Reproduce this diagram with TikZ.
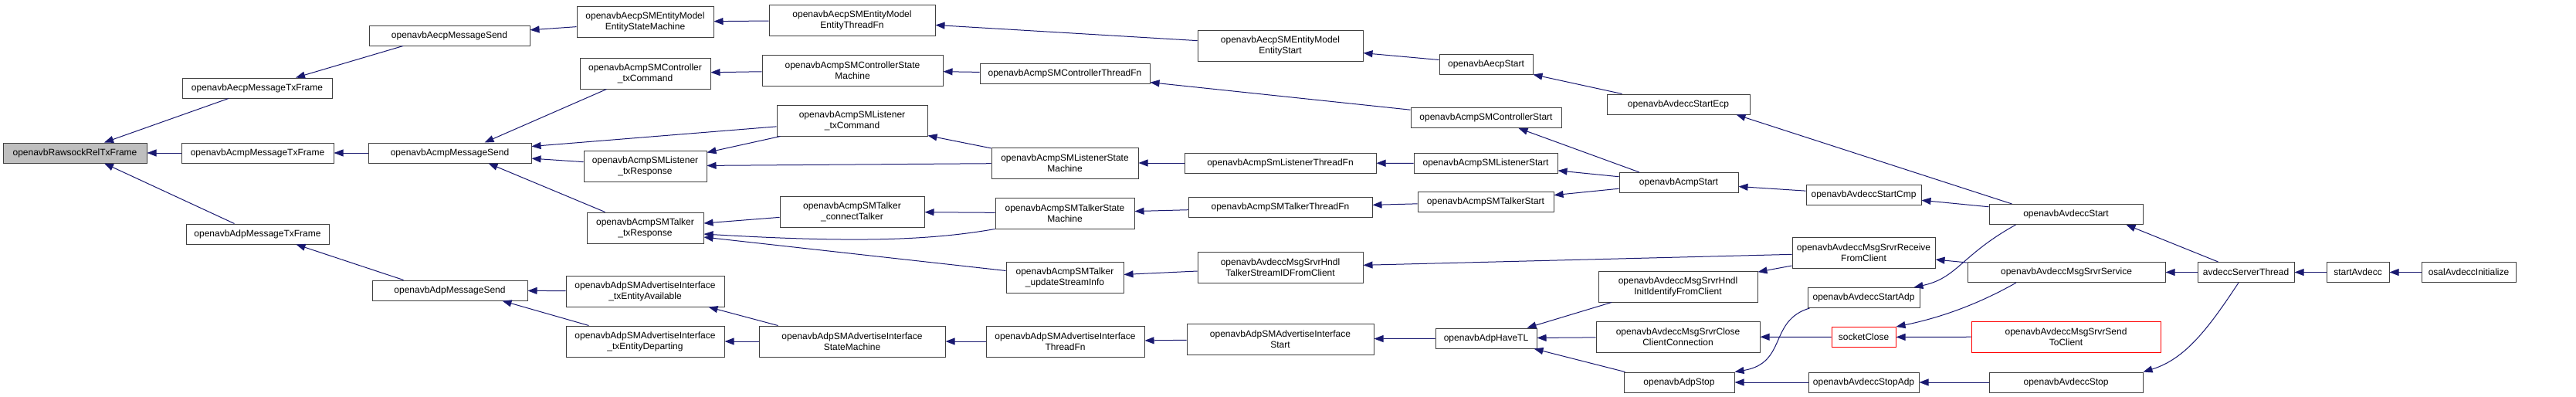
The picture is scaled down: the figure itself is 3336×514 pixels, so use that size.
\documentclass[tikz,border=0pt]{standalone}
\usepackage{fontspec}
\setmainfont{Liberation Sans}
\usepackage{tikz}
\usetikzlibrary{arrows.meta, positioning}
\definecolor{callColor}{HTML}{191970}
\definecolor{rootFill}{HTML}{BFBFBF}

\begin{document}
\begin{tikzpicture}[x=1pt, y=-1pt, font=\fontsize{12}{14}\selectfont, >={Triangle[length=12pt, width=9pt]},
        fn/.style={rectangle, draw=black!75, line width=1pt, fill=white, inner sep=0pt, minimum height=26pt, align=center},
        fntwo/.style={fn, minimum height=40pt},
        fnred/.style={draw=red},
        call/.style={->, callColor, line width=1pt}]
        \useasboundingbox (0,0) rectangle (3336,514);

        % Column 0-2: tx frame and message send
        \node[fn, fill=rootFill, minimum width=186pt] (raw) at (97,198) {openavbRawsockRelTxFrame};
        \node[fn, minimum width=194pt] (aecpTx) at (333,114) {openavbAecpMessageTxFrame};
        \node[fn, minimum width=197pt] (acmpTx) at (333.5,198) {openavbAcmpMessageTxFrame};
        \node[fn, minimum width=185pt] (adpTx) at (333.5,303) {openavbAdpMessageTxFrame};
        \node[fn, minimum width=208pt] (aecpSend) at (582,46) {openavbAecpMessageSend};
        \node[fn, minimum width=211pt] (acmpSend) at (582.5,198) {openavbAcmpMessageSend};
        \node[fn, minimum width=201pt] (adpSend) at (582.5,376) {openavbAdpMessageSend};

        % Column 3
        \node[fntwo, minimum width=177pt] (aecpSM) at (835.5,28.5) {openavbAecpSMEntityModel\\EntityStateMachine};
        \node[fntwo, minimum width=169pt] (ctrlTxCmd) at (835.5,95) {openavbAcmpSMController\\\_txCommand};
        \node[fntwo, minimum width=159pt] (lisTxResp) at (835.5,215) {openavbAcmpSMListener\\\_txResponse};
        \node[fntwo, minimum width=151pt] (talkTxResp) at (835.5,295) {openavbAcmpSMTalker\\\_txResponse};
        \node[fntwo, minimum width=205pt] (txAvail) at (835.5,377) {openavbAdpSMAdvertiseInterface\\\_txEntityAvailable};
        \node[fntwo, minimum width=205pt] (txDepart) at (835.5,442) {openavbAdpSMAdvertiseInterface\\\_txEntityDeparting};

        % Column 4
        \node[fntwo, minimum width=215pt] (aecpThr) at (1103.5,26) {openavbAecpSMEntityModel\\EntityThreadFn};
        \node[fntwo, minimum width=234pt] (ctrlSM) at (1104,91) {openavbAcmpSMControllerState\\Machine};
        \node[fntwo, minimum width=195pt] (lisTxCmd) at (1103.5,156) {openavbAcmpSMListener\\\_txCommand};
        \node[fntwo, minimum width=187pt] (talkConn) at (1103.5,274) {openavbAcmpSMTalker\\\_connectTalker};
        \node[fntwo, minimum width=241pt] (advSM) at (1103.5,442) {openavbAdpSMAdvertiseInterface\\StateMachine};

        % Column 5
        \node[fn, minimum width=220pt] (ctrlThr) at (1379,95) {openavbAcmpSMControllerThreadFn};
        \node[fntwo, minimum width=190pt] (lisSM) at (1379,211) {openavbAcmpSMListenerState\\Machine};
        \node[fntwo, minimum width=180pt] (talkSM) at (1379,276) {openavbAcmpSMTalkerState\\Machine};
        \node[fntwo, minimum width=152pt] (talkUpd) at (1379,359) {openavbAcmpSMTalker\\\_updateStreamInfo};
        \node[fntwo, minimum width=205pt] (advThr) at (1379.5,442) {openavbAdpSMAdvertiseInterface\\ThreadFn};

        % Column 6
        \node[fntwo, minimum width=214pt] (aecpSMStart) at (1658,59) {openavbAecpSMEntityModel\\EntityStart};
        \node[fn, minimum width=248pt] (lisThr) at (1658,211) {openavbAcmpSmListenerThreadFn};
        \node[fn, minimum width=238pt] (talkThr) at (1658,268.5) {openavbAcmpSMTalkerThreadFn};
        \node[fntwo, minimum width=214pt] (hndlTalk) at (1658,346) {openavbAvdeccMsgSrvrHndl\\TalkerStreamIDFromClient};
        \node[fntwo, minimum width=242pt] (advStart) at (1658,439) {openavbAdpSMAdvertiseInterface\\Start};

        % Column 7
        \node[fn, minimum width=121pt] (aecpStart) at (1924.5,83) {openavbAecpStart};
        \node[fn, minimum width=195pt] (ctrlStart) at (1924.5,152.5) {openavbAcmpSMControllerStart};
        \node[fn, minimum width=186pt] (lisStart) at (1924,211.5) {openavbAcmpSMListenerStart};
        \node[fn, minimum width=176pt] (talkStart) at (1924,261.5) {openavbAcmpSMTalkerStart};
        \node[fn, minimum width=131pt] (haveTL) at (1924.5,438) {openavbAdpHaveTL};

        % Column 8
        \node[fn, minimum width=185pt] (startEcp) at (2173.5,135) {openavbAvdeccStartEcp};
        \node[fn, minimum width=154pt] (acmpStart) at (2174,236.5) {openavbAcmpStart};
        \node[fntwo, minimum width=206pt] (hndlInit) at (2173,371) {openavbAvdeccMsgSrvrHndl\\InitIdentifyFromClient};
        \node[fntwo, minimum width=212pt] (closeConn) at (2173,436) {openavbAvdeccMsgSrvrClose\\ClientConnection};
        \node[fn, minimum width=143pt] (adpStop) at (2174.5,495) {openavbAdpStop};

        % Column 9
        \node[fn, minimum width=149pt] (startCmp) at (2413.5,252) {openavbAvdeccStartCmp};
        \node[fntwo, minimum width=185pt] (recvFrom) at (2413.5,327) {openavbAvdeccMsgSrvrReceive\\FromClient};
        \node[fn, minimum width=145pt] (startAdp) at (2413.5,385.5) {openavbAvdeccStartAdp};
        \node[fn, fnred, minimum width=83pt] (sockClose) at (2413.5,436.5) {socketClose};
        \node[fn, minimum width=143pt] (stopAdp) at (2413.5,495) {openavbAvdeccStopAdp};

        % Column 10
        \node[fn, minimum width=199pt] (avdStart) at (2675.5,277.5) {openavbAvdeccStart};
        \node[fn, minimum width=256pt] (srvService) at (2676,352.5) {openavbAvdeccMsgSrvrService};
        \node[fntwo, fnred, minimum width=245pt] (sendTo) at (2675.5,436) {openavbAvdeccMsgSrvrSend\\ToClient};
        \node[fn, minimum width=199pt] (avdStop) at (2675.5,495) {openavbAvdeccStop};

        % Column 11-13
        \node[fn, minimum width=125pt] (srvThread) at (2908.5,352.5) {avdeccServerThread};
        \node[fn, minimum width=81pt] (startAvd) at (3053.5,352.5) {startAvdecc};
        \node[fn, minimum width=122pt] (osalInit) at (3197,352.5) {osalAvdeccInitialize};

        % Calls into the tx frames
        \draw[call] ([xshift=-37pt]aecpTx.south) -- ([xshift=38pt]raw.north);
        \draw[call] (acmpTx) -- (raw);
        \draw[call] ([xshift=-30pt]adpTx.north) -- ([xshift=38pt]raw.south);
        \draw[call] ([xshift=-60pt]aecpSend.south) -- ([xshift=50pt]aecpTx.north);
        \draw[call] (acmpSend) -- (acmpTx);
        \draw[call] ([xshift=-60pt]adpSend.north) -- ([xshift=50pt]adpTx.south);

        % Aecp chain
        \draw[call] (aecpSM) -- (aecpSend);
        \draw[call] (aecpThr) -- (aecpSM);
        \draw[call] (aecpSMStart) -- (aecpThr);
        \draw[call] (aecpStart) -- (aecpSMStart);
        \draw[call] ([xshift=-73pt]startEcp.north) -- (aecpStart.south east);
        \draw[call] ([xshift=-70pt]avdStart.north) -- ([xshift=75pt]startEcp.south);

        % Acmp chain
        \draw[call] ([xshift=-50pt]ctrlTxCmd.south) -- ([xshift=45pt]acmpSend.north);
        \draw[call] (lisTxCmd) -- (acmpSend);
        \draw[call] (lisTxResp) -- (acmpSend);
        \draw[call] ([xshift=-52pt]talkTxResp.north) -- ([xshift=50pt]acmpSend.south);
        \draw[call] (ctrlSM) -- (ctrlTxCmd);
        \draw[call] (ctrlThr) -- (ctrlSM);
        \draw[call] (ctrlStart) -- (ctrlThr);
        \draw[call] ([xshift=-51pt]acmpStart.north) -- ([xshift=42pt]ctrlStart.south);
        \draw[call] (lisTxCmd) -- (lisTxResp);
        \draw[call] (lisSM) -- (lisTxResp);
        \draw[call] (lisSM) -- (lisTxCmd);
        \draw[call] (lisThr) -- (lisSM);
        \draw[call] (lisStart) -- (lisThr);
        \draw[call] (acmpStart) -- (lisStart);
        \draw[call] (talkConn) -- (talkTxResp);
        \draw[call] (talkSM.south west) .. controls (1200,312) and (1100,314) .. ([yshift=-8pt]talkTxResp.east);
        \draw[call] (talkUpd) -- ([yshift=-12pt]talkTxResp.east);
        \draw[call] (talkSM) -- (talkConn);
        \draw[call] (talkThr) -- (talkSM);
        \draw[call] (talkStart) -- (talkThr);
        \draw[call] (acmpStart) -- (talkStart);
        \draw[call] (startCmp) -- (acmpStart);
        \draw[call] (avdStart) -- (startCmp);

        % Message server
        \draw[call] (hndlTalk) -- (talkUpd);
        \draw[call] (recvFrom) -- (hndlTalk);
        \draw[call] (recvFrom) -- (hndlInit);
        \draw[call] (srvService) -- (recvFrom);
        \draw[call] (srvThread) -- (srvService);
        \draw[call] ([xshift=-36pt]srvThread.north) -- ([xshift=78pt]avdStart.south);
        \draw[call] ([xshift=-9.5pt]srvThread.south) .. controls (2860,425) and (2830,465) .. (avdStop.north east);
        \draw[call] (startAvd) -- (srvThread);
        \draw[call] (osalInit) -- (startAvd);

        % Adp chain
        \draw[call] (txAvail) -- (adpSend);
        \draw[call] ([xshift=-73pt]txDepart.north) -- ([xshift=68pt]adpSend.south);
        \draw[call] ([xshift=-96pt]advSM.north) -- ([xshift=82pt]txAvail.south);
        \draw[call] (advSM) -- (txDepart);
        \draw[call] (advThr) -- (advSM);
        \draw[call] (advStart) -- (advThr);
        \draw[call] (haveTL) -- (advStart);
        \draw[call] ([xshift=-86pt]hndlInit.south) -- ([xshift=53pt]haveTL.north);
        \draw[call] (closeConn) -- (haveTL);
        \draw[call] ([xshift=-70pt]adpStop.north) -- ([xshift=62pt]haveTL.south);
        \draw[call] (sockClose) -- (closeConn);
        \draw[call] ([xshift=-65pt]srvService.south) .. controls (2560,395) and (2510,412) .. (sockClose.north east);
        \draw[call] (sendTo) -- (sockClose);
        \draw[call] ([xshift=-65pt]avdStart.south) .. controls (2540,330) and (2535,360) .. ([xshift=-8pt]startAdp.north east);
        \draw[call] ([xshift=3pt]startAdp.south west) .. controls (2290,415) and (2315,470) .. (adpStop.north east);
        \draw[call] (stopAdp) -- (adpStop);
        \draw[call] (avdStop) -- (stopAdp);
\end{tikzpicture}
\end{document}
